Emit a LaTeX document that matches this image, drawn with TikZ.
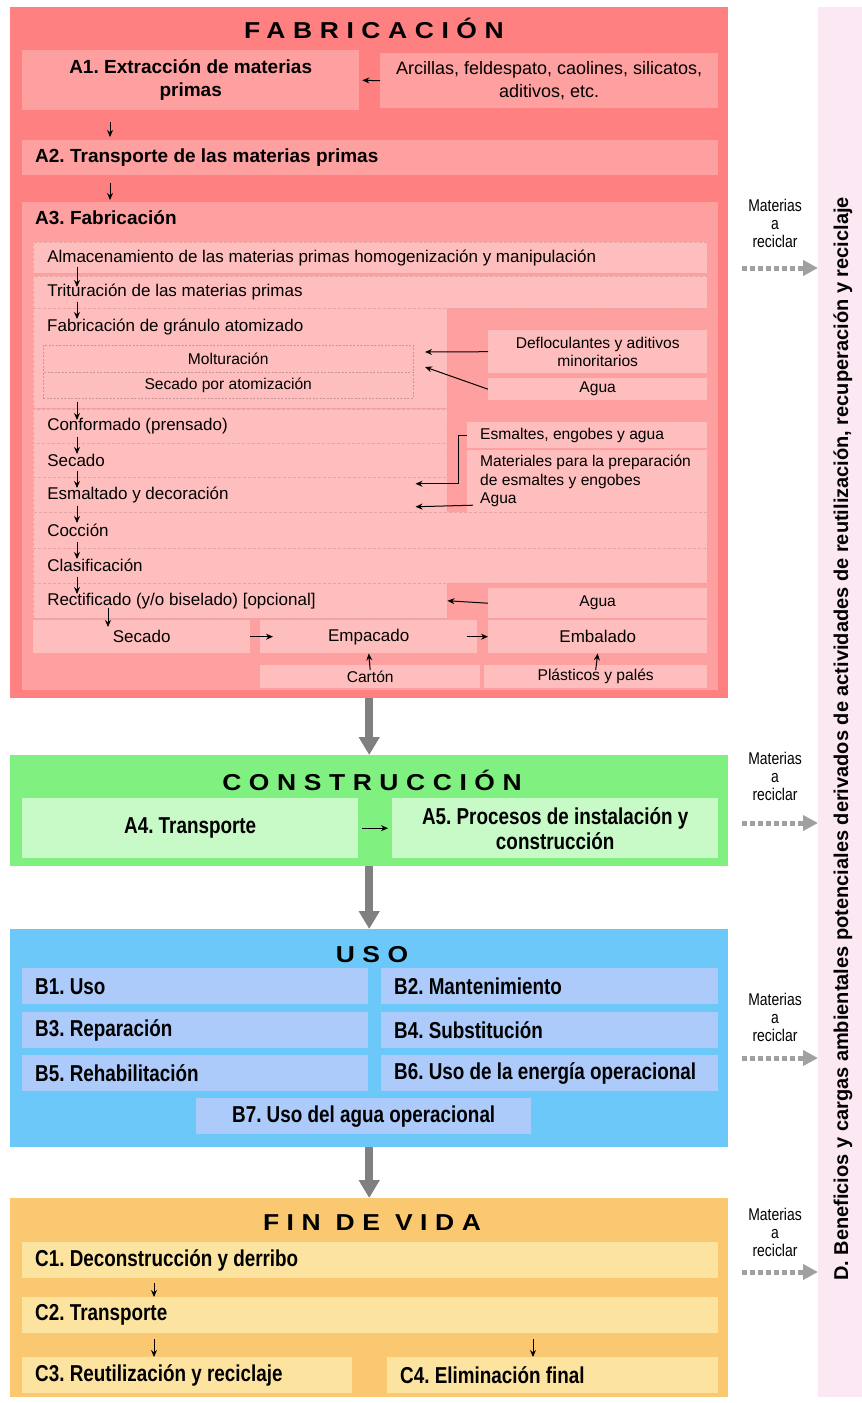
\documentclass[tikz,border=0pt]{standalone}
\usepackage{fontspec}
\setmainfont{Liberation Sans}
\newfontfamily\narrowfont[FakeStretch=0.82]{Liberation Sans}
\newfontfamily\titlefont[FakeStretch=1.15,LetterSpace=33]{Liberation Sans}
\usepackage{xcolor}
\usetikzlibrary{arrows.meta}

\definecolor{fabout}{RGB}{255,128,128}
\definecolor{fabbox}{RGB}{255,160,160}
\definecolor{fabrow}{RGB}{255,190,190}
\definecolor{rowline}{RGB}{230,165,165}
\definecolor{subline}{RGB}{200,150,150}
\definecolor{consout}{RGB}{128,240,128}
\definecolor{consbox}{RGB}{200,250,200}
\definecolor{usoout}{RGB}{108,200,248}
\definecolor{usobox}{RGB}{172,202,250}
\definecolor{finout}{RGB}{250,200,112}
\definecolor{finbox}{RGB}{252,228,160}
\definecolor{sidebar}{RGB}{252,232,242}
\definecolor{arrowgray}{RGB}{128,128,128}
\definecolor{recgray}{RGB}{160,160,160}

\newcommand\fabbold{\fontsize{19}{23}\selectfont\bfseries}
\newcommand\fabreg{\fontsize{17}{23}\selectfont}
\newcommand\fabsmall{\fontsize{15.6}{18.5}\selectfont}
\newcommand\stagebold{\narrowfont\fontsize{23}{25}\selectfont\bfseries}
\newcommand\recfont{\narrowfont\fontsize{17}{18}\selectfont}
\newcommand\sidefont{\fontsize{20}{22}\selectfont\bfseries}
\newcommand\stagetitle{\titlefont\fontsize{23}{26}\selectfont\bfseries}

\begin{document}
\frenchspacing
\begin{tikzpicture}[x=1pt, y=-1pt,
  sect/.style={fill=#1, anchor=north west, inner sep=0pt},
  pbox/.style={fill=#1, anchor=north west, inner sep=0pt, align=center},
  lbox/.style={fill=#1, anchor=north west, inner xsep=13pt, inner ysep=0pt, align=flush left},
  row/.style={fill=fabrow, draw=rowline, densely dashed, line width=0.5pt, anchor=north west,
    inner xsep=14pt, inner ysep=0pt, align=flush left, font=\fabreg},
  sub/.style={fill=fabrow, draw=subline, dash pattern=on 2pt off 1.5pt, line width=0.5pt,
    anchor=north west, inner sep=0pt, font=\fabsmall},
  recnode/.style={font=\recfont, align=center, text width=66pt, inner sep=0pt},
  arr/.style={-{Stealth[length=7pt,width=6pt]}, line width=1pt},
  bigarr/.style={-{Triangle[length=18pt,width=20pt]}, line width=8pt, draw=arrowgray},
  recarr/.style={-{Triangle[length=15pt,width=15pt]}, line width=5pt, draw=recgray,
    dash pattern=on 5pt off 3pt}]
  \useasboundingbox (0,0) rectangle (862,1403);

  % side bar
  \node[sect=sidebar, minimum width=44pt, minimum height=1390pt] (bar) at (818,7) {};
  \node[rotate=90, font=\sidefont] (barT) at (843,739) {D. Beneficios y cargas ambientales potenciales derivados de actividades de reutilización, recuperación y reciclaje};

  % FABRICACION
  \node[sect=fabout, minimum width=718pt, minimum height=691pt] (fab) at (10,7) {};
  \node[font=\stagetitle] (fabT) at (374,28) {FABRICACIÓN};
  \node[pbox=fabbox, minimum width=337pt, minimum height=60pt, font=\fabbold] (A1) at (22,50) {A1. Extracción de materias\\primas};
  \node[pbox=fabbox, minimum width=338pt, minimum height=55pt, font=\fontsize{18}{23}\selectfont] (arc) at (380,53) {Arcillas, feldespato, caolines, silicatos,\\aditivos, etc.};
  \draw[arr, shorten >=3pt] (arc.west) -- (A1.east);
  \node[lbox=fabbox, text width=670pt, minimum height=35pt, font=\fabbold] (A2) at (22,140) {A2. Transporte de las materias primas};
  \draw[arr] ([xshift=88pt,yshift=-12pt]A1.south west) -- ([xshift=88pt,yshift=3pt]A2.north west);
  \node[sect=fabbox, minimum width=696pt, minimum height=488pt] (A3) at (22,202) {};
  \node[anchor=west, inner sep=0pt, font=\fabbold] (A3T) at (35,218) {A3. Fabricación};
  \draw[arr] ([xshift=88pt,yshift=-8pt]A2.south west) -- ([xshift=88pt,yshift=2pt]A3.north west);

  \node[row, text width=646pt, minimum height=31pt] (alm) at (33,242) {Almacenamiento de las materias primas homogenización y manipulación};
  \node[row, text width=646pt, minimum height=32pt] (tri) at (33,276) {Trituración de las materias primas};
  \node[row, text width=386pt, minimum height=100pt] (gra) at (33,308) {};
  \node[anchor=west, inner sep=0pt, font=\fabreg] (graT) at (47,327) {Fabricación de gránulo atomizado};
  \node[sub, minimum width=370pt, minimum height=27pt] (mol) at (43,345) {Molturación};
  \node[sub, minimum width=370pt, minimum height=26pt] (ato) at (43,372) {Secado por atomización};
  \node[pbox=fabrow, minimum width=219pt, minimum height=43pt, font=\fabsmall] (def) at (488,330) {Defloculantes y aditivos\\minoritarios};
  \node[pbox=fabrow, minimum width=219pt, minimum height=22pt, font=\fabsmall] (agu1) at (488,378) {Agua};
  \coordinate (molIn) at (425,352);
  \coordinate (atoIn) at (425,367);
  \draw[arr] (def.west) -- (molIn);
  \draw[arr] (agu1.west) -- (atoIn);

  \node[row, text width=386pt, minimum height=34pt] (con) at (33,409) {Conformado (prensado)};
  \node[row, text width=386pt, minimum height=34pt] (sec) at (33,443) {Secado};
  \node[row, text width=386pt, minimum height=35pt] (esm) at (33,477) {Esmaltado y decoración};
  \node[lbox=fabrow, text width=214pt, minimum height=26pt, font=\fabsmall] (eng) at (467,422) {Esmaltes, engobes y agua};
  \node[lbox=fabrow, text width=214pt, minimum height=62pt, font=\fabsmall] (mat) at (467,450) {Materiales para la preparación\\de esmaltes y engobes\\Agua};
  \draw[arr] (eng.west) -- ++(-9,0) |- ([xshift=-32pt,yshift=11pt]esm.east);
  \draw[arr] ([xshift=6pt,yshift=-24pt]mat.west) -- ([xshift=-32pt,yshift=-12pt]esm.east);

  \node[row, text width=646pt, minimum height=36pt] (coc) at (33,512) {Cocción};
  \node[row, text width=646pt, minimum height=35pt] (cla) at (33,548) {Clasificación};
  \node[row, text width=386pt, minimum height=35pt] (rec) at (33,583) {Rectificado (y/o biselado) [opcional]};
  \node[pbox=fabrow, minimum width=219pt, minimum height=30pt, font=\fabsmall] (agu2) at (488,588) {Agua};
  \draw[arr] (agu2.west) -- (rec.east);

  \node[pbox=fabrow, minimum width=217pt, minimum height=33pt, font=\fabreg] (sec2) at (33,620) {Secado};
  \node[pbox=fabrow, minimum width=217pt, minimum height=33pt, font=\fabreg] (emp) at (260,620) {Empacado};
  \node[pbox=fabrow, minimum width=219pt, minimum height=33pt, font=\fabreg] (emb) at (488,620) {Embalado};
  \node[pbox=fabrow, minimum width=220pt, minimum height=23pt, font=\fabsmall] (cart) at (260,665) {Cartón};
  \node[pbox=fabrow, minimum width=223pt, minimum height=23pt, font=\fabsmall] (plas) at (484,665) {Plásticos y palés};
  \draw[arr] (sec2.east) -- ([xshift=13pt]emp.west);
  \draw[arr] ([xshift=-10pt]emp.east) -- (emb.west);
  \draw[arr] ([yshift=-5pt]cart.north) -- (emp.south);
  \draw[arr] ([yshift=-5pt]plas.north) -- (emb.south);

  % flow down the rows
  \foreach \a/\b in {alm/tri, tri/gra, gra/con, con/sec, sec/esm, esm/coc, coc/cla, cla/rec}
    \draw[arr] ([xshift=44pt,yshift=7pt]\a.south west) -- ([xshift=44pt,yshift=-11pt]\b.north west);
  \draw[arr] ([xshift=75pt,yshift=11pt]rec.south west) -- ([xshift=75pt,yshift=-7pt]sec2.north west);

  % CONSTRUCCION
  \node[sect=consout, minimum width=718pt, minimum height=111pt] (cons) at (10,755) {};
  \node[font=\stagetitle] (consT) at (372,780) {CONSTRUCCIÓN};
  \node[pbox=consbox, minimum width=336pt, minimum height=60pt, font=\stagebold] (A4) at (22,798) {A4. Transporte};
  \node[pbox=consbox, minimum width=326pt, minimum height=60pt, font=\stagebold] (A5) at (392,798) {A5. Procesos de instalación y\\construcción};
  \draw[arr] ([xshift=4pt]A4.east) -- ([xshift=-4pt]A5.west);

  % USO
  \node[sect=usoout, minimum width=718pt, minimum height=218pt] (uso) at (10,929) {};
  \node[font=\stagetitle] (usoT) at (372,955) {USO};
  \node[lbox=usobox, text width=320pt, minimum height=36pt, font=\stagebold] (B1) at (22,968) {B1. Uso};
  \node[lbox=usobox, text width=311pt, minimum height=36pt, font=\stagebold] (B2) at (381,968) {B2. Mantenimiento};
  \node[lbox=usobox, text width=320pt, minimum height=36pt, font=\stagebold] (B3) at (22,1012) {B3. Reparación};
  \node[lbox=usobox, text width=311pt, minimum height=36pt, font=\stagebold] (B4) at (381,1012) {B4. Substitución};
  \node[lbox=usobox, text width=320pt, minimum height=36pt, font=\stagebold] (B5) at (22,1055) {B5. Rehabilitación};
  \node[lbox=usobox, text width=311pt, minimum height=36pt, font=\stagebold] (B6) at (381,1055) {B6. Uso de la energía operacional};
  \node[pbox=usobox, minimum width=335pt, minimum height=36pt, font=\stagebold] (B7) at (196,1098) {B7. Uso del agua operacional};

  % FIN DE VIDA
  \node[sect=finout, minimum width=718pt, minimum height=199pt] (fin) at (10,1198) {};
  \node[font=\stagetitle] (finT) at (372,1223) {FIN DE VIDA};
  \node[lbox=finbox, text width=670pt, minimum height=36pt, font=\stagebold] (C1) at (22,1242) {C1. Deconstrucción y derribo};
  \node[lbox=finbox, text width=670pt, minimum height=36pt, font=\stagebold] (C2) at (22,1297) {C2. Transporte};
  \node[lbox=finbox, text width=304pt, minimum height=36pt, font=\stagebold] (C3) at (22,1357) {C3. Reutilización y reciclaje};
  \node[lbox=finbox, text width=305pt, minimum height=36pt, font=\stagebold] (C4) at (387,1357) {C4. Eliminación final};
  \draw[arr] ([xshift=132pt,yshift=-5pt]C1.south west) -- ([xshift=132pt]C2.north west);
  \draw[arr] ([xshift=132pt,yshift=-6pt]C2.south west) -- ([xshift=132pt]C3.north west);
  \draw[arr] ([xshift=511pt,yshift=-6pt]C2.south west) -- ([xshift=146pt]C4.north west);

  % stages
  \draw[bigarr] (fab.south) -- (cons.north);
  \draw[bigarr] (cons.south) -- (uso.north);
  \draw[bigarr] (uso.south) -- (fin.north);

  % materials to recycle
  \node[recnode] (m1) at (775,223) {Materias\\a\\reciclar};
  \node[recnode] (m2) at (775,776) {Materias\\a\\reciclar};
  \node[recnode] (m3) at (775,1017) {Materias\\a\\reciclar};
  \node[recnode] (m4) at (775,1232) {Materias\\a\\reciclar};
  \coordinate (r1) at (742,268);
  \coordinate (r2) at (742,823);
  \coordinate (r3) at (742,1058);
  \coordinate (r4) at (742,1272);
  \foreach \r in {r1,r2,r3,r4}
    \draw[recarr] (\r) -- (\r -| bar.west);
\end{tikzpicture}
\end{document}
